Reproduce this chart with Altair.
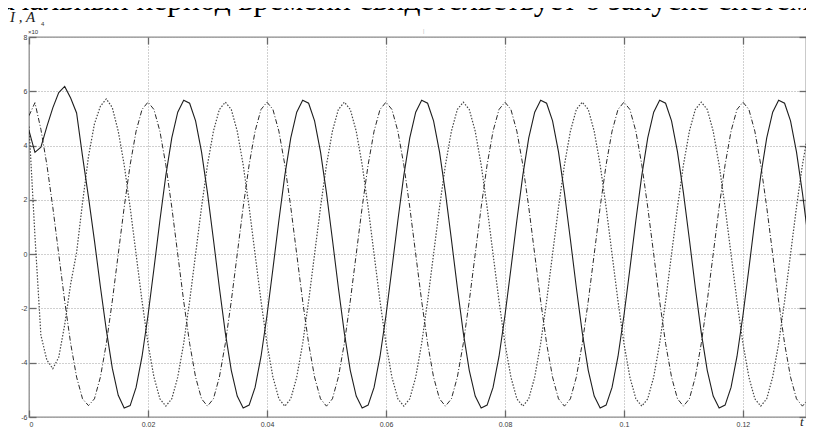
import altair as alt
import pandas as pd

# sample instants (s), 1 ms apart
t = [k / 1000 for k in range(133)]

# phase current, solid line (x10^4 A)
solid = [
    4.55, 3.75, 3.94, 4.7, 5.39, 5.95, 6.18, 5.75, 5.2, 3.6, 2.1, 0.5, -1.2, -2.8, -4.2, -5.2, -5.67, -5.58, -4.91, -3.77,
    -2.26, -0.54, 1.24, 2.9, 4.28, 5.23, 5.67, 5.56, 4.91, 3.77, 2.26, 0.54, -1.24, -2.9, -4.28, -5.23, -5.67, -5.56, -4.91, -3.77,
    -2.26, -0.54, 1.24, 2.9, 4.28, 5.23, 5.67, 5.56, 4.91, 3.77, 2.26, 0.54, -1.24, -2.9, -4.28, -5.23, -5.67, -5.56, -4.91, -3.77,
    -2.26, -0.54, 1.24, 2.9, 4.28, 5.23, 5.67, 5.56, 4.91, 3.77, 2.26, 0.54, -1.24, -2.9, -4.28, -5.23, -5.67, -5.56, -4.91, -3.77,
    -2.26, -0.54, 1.24, 2.9, 4.28, 5.23, 5.67, 5.56, 4.91, 3.77, 2.26, 0.54, -1.24, -2.9, -4.28, -5.23, -5.67, -5.56, -4.91, -3.77,
    -2.26, -0.54, 1.24, 2.9, 4.28, 5.23, 5.67, 5.56, 4.91, 3.77, 2.26, 0.54, -1.24, -2.9, -4.28, -5.23, -5.67, -5.56, -4.91, -3.77,
    -2.26, -0.54, 1.24, 2.9, 4.28, 5.23, 5.67, 5.56, 4.91, 3.77, 2.26, 0.54, -1.24,
]

# phase current, dash-dot line
dashdot = [
    5.1, 5.58, 4.6, 3.3, 1.73, 0.0, -1.73, -3.29, -4.53, -5.33, -5.58, -5.33, -4.53, -3.29, -1.73, 0.0, 1.73, 3.29, 4.53, 5.33,
    5.6, 5.33, 4.53, 3.29, 1.73, 0.0, -1.73, -3.29, -4.53, -5.33, -5.6, -5.33, -4.53, -3.29, -1.73, 0.0, 1.73, 3.29, 4.53, 5.33,
    5.6, 5.33, 4.53, 3.29, 1.73, 0.0, -1.73, -3.29, -4.53, -5.33, -5.6, -5.33, -4.53, -3.29, -1.73, 0.0, 1.73, 3.29, 4.53, 5.33,
    5.6, 5.33, 4.53, 3.29, 1.73, 0.0, -1.73, -3.29, -4.53, -5.33, -5.6, -5.33, -4.53, -3.29, -1.73, 0.0, 1.73, 3.29, 4.53, 5.33,
    5.6, 5.33, 4.53, 3.29, 1.73, 0.0, -1.73, -3.29, -4.53, -5.33, -5.6, -5.33, -4.53, -3.29, -1.73, 0.0, 1.73, 3.29, 4.53, 5.33,
    5.6, 5.33, 4.53, 3.29, 1.73, 0.0, -1.73, -3.29, -4.53, -5.33, -5.6, -5.33, -4.53, -3.29, -1.73, 0.0, 1.73, 3.29, 4.53, 5.33,
    5.6, 5.33, 4.53, 3.29, 1.73, 0.0, -1.73, -3.29, -4.53, -5.33, -5.6, -5.33, -4.53,
]

# phase current, dotted line
dotted = [
    4.7, 0.67, -2.99, -3.9, -4.22, -3.8, -2.6, -1.1, 0.06, 1.9, 3.6, 4.8, 5.45, 5.72, 5.4, 4.53, 3.29, 1.73, 0.0, -1.73,
    -3.29, -4.53, -5.33, -5.6, -5.33, -4.53, -3.29, -1.73, 0.0, 1.73, 3.29, 4.53, 5.33, 5.6, 5.33, 4.53, 3.29, 1.73, 0.0, -1.73,
    -3.29, -4.53, -5.33, -5.6, -5.33, -4.53, -3.29, -1.73, 0.0, 1.73, 3.29, 4.53, 5.33, 5.6, 5.33, 4.53, 3.29, 1.73, 0.0, -1.73,
    -3.29, -4.53, -5.33, -5.6, -5.33, -4.53, -3.29, -1.73, 0.0, 1.73, 3.29, 4.53, 5.33, 5.6, 5.33, 4.53, 3.29, 1.73, 0.0, -1.73,
    -3.29, -4.53, -5.33, -5.6, -5.33, -4.53, -3.29, -1.73, 0.0, 1.73, 3.29, 4.53, 5.33, 5.6, 5.33, 4.53, 3.29, 1.73, 0.0, -1.73,
    -3.29, -4.53, -5.33, -5.6, -5.33, -4.53, -3.29, -1.73, 0.0, 1.73, 3.29, 4.53, 5.33, 5.6, 5.33, 4.53, 3.29, 1.73, 0.0, -1.73,
    -3.29, -4.53, -5.33, -5.6, -5.33, -4.53, -3.29, -1.73, 0.0, 1.73, 3.29, 4.53, 5.33,
]

x_ticks = [0, 0.02, 0.04, 0.06, 0.08, 0.1, 0.12]
y_ticks = [-6, -4, -2, 0, 2, 4, 6, 8]
x_domain = [0, 0.1306]
y_domain = [-6, 8]

header_text = "Начальный период времени свидетельствует о запуске систем"
y_title = "I , A"
exp_base = "×10"
exp_pow = "4"
x_title = "t"

n = len(t)
df = pd.DataFrame({
    "t": t * 3,
    "v": solid + dashdot + dotted,
    "s": ["a"] * n + ["b"] * n + ["c"] * n,
})

x_scale = alt.Scale(domain=x_domain, nice=False, zero=False)
y_scale = alt.Scale(domain=y_domain, nice=False, zero=False)

common = dict(domain=False, ticks=True, tickSize=7, offset=-7, tickColor="#6a6a6a",
              tickWidth=1.3, labelFont="Liberation Sans", labelFontSize=7,
              labelColor="#3a3a3a", gridColor="#a0a0a0", gridDash=[1, 2], gridWidth=1)

x_bottom = alt.Axis(orient="bottom", values=x_ticks, labelExpr="'' + datum.value",
                    labelPadding=3, grid=True, **common)
y_left = alt.Axis(orient="left", values=y_ticks, labelExpr="'' + datum.value",
                  labelPadding=2, grid=True, **common)
x_top = alt.Axis(orient="top", values=x_ticks, labels=False, grid=False, **common)
y_right = alt.Axis(orient="right", values=y_ticks, labels=False, grid=False, **common)

base = alt.Chart(df)

solid_layer = base.transform_filter("datum.s == 'a'").mark_line(
    clip=True, color="#1e1e1e", strokeWidth=1.1
).encode(
    x=alt.X("t:Q", scale=x_scale, axis=x_bottom, title=None),
    y=alt.Y("v:Q", scale=y_scale, axis=y_left, title=None),
)

dashdot_layer = base.transform_filter("datum.s == 'b'").mark_line(
    clip=True, color="#2a2a2a", strokeWidth=1, strokeDash=[5, 2, 1, 2]
).encode(
    x=alt.X("t:Q", scale=x_scale, axis=None),
    y=alt.Y("v:Q", scale=y_scale, axis=None),
)

dotted_layer = base.transform_filter("datum.s == 'c'").mark_line(
    clip=True, color="#444444", strokeWidth=1.2, strokeDash=[1.5, 1.6]
).encode(
    x=alt.X("t:Q", scale=x_scale, axis=None),
    y=alt.Y("v:Q", scale=y_scale, axis=None),
)

frame_layer = base.transform_filter("datum.s == 'a'").mark_line(opacity=0, clip=True).encode(
    x=alt.X("t:Q", scale=x_scale, axis=x_top, title=None),
    y=alt.Y("v:Q", scale=y_scale, axis=y_right, title=None),
)


def label(txt, x, y, size, **kw):
    return alt.Chart(pd.DataFrame({"txt": [txt]})).mark_text(
        align="left", baseline="alphabetic", fontSize=size, **kw
    ).encode(text="txt:N", x=alt.value(x), y=alt.value(y))


header = label(header_text, -51, -27, 31.5, font="Liberation Serif", color="#000000")
ylab = label(y_title, -19, -15, 15, font="Liberation Serif", fontStyle="italic", color="#1a1a1a")
expb = label(exp_base, -1, -3, 6, font="Liberation Sans", color="#333333")
expp = label(exp_pow, 12, -11, 6, font="Liberation Sans", color="#333333")
xlab = label(x_title, 771, 389, 13, font="Liberation Serif", fontStyle="italic", color="#1a1a1a")
mark_i = label("|", 394, -4, 5, font="Liberation Sans", color="#b0b0b0")

chart = alt.layer(
    dotted_layer, dashdot_layer, solid_layer, frame_layer,
    header, ylab, expb, expp, xlab, mark_i,
).resolve_axis(
    x="independent", y="independent"
).properties(
    width=777, height=380,
    autosize=alt.AutoSizeParams(type="none"),
    padding={"left": 21, "top": 29, "right": 0, "bottom": 11},
    background="white",
).configure_view(
    stroke="#8c8c8c", strokeWidth=1.3
)

chart.save("out.html", embed_options={"renderer": "svg", "actions": False})
